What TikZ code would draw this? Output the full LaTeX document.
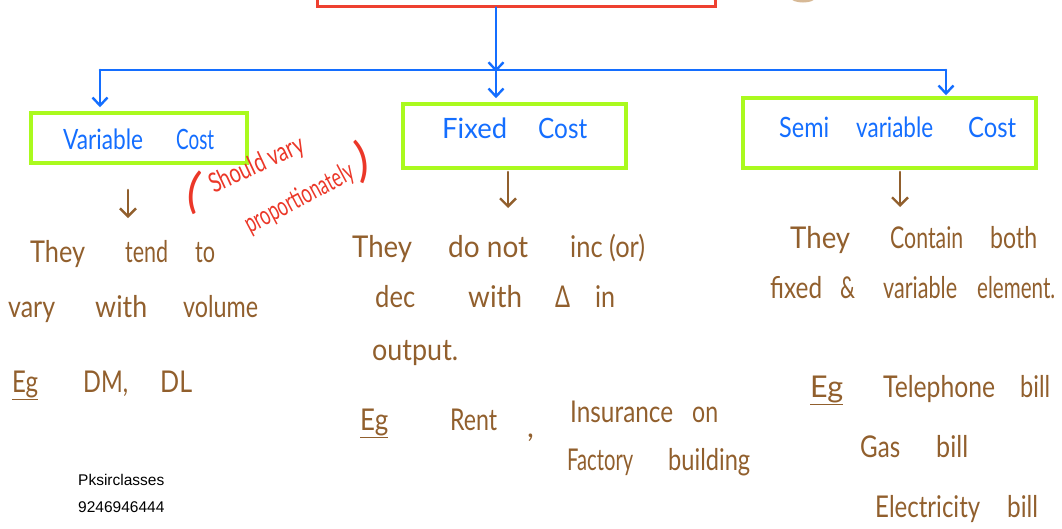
\documentclass[tikz,border=0pt]{standalone}
\usepackage{fontspec}
\setmainfont{Lato}
\setsansfont{Liberation Sans}
\usetikzlibrary{arrows.meta}
\definecolor{inkblue}{RGB}{20,110,255}
\definecolor{inkbrown}{RGB}{145,95,45}
\definecolor{inkred}{RGB}{235,55,40}
\definecolor{limegreen}{RGB}{170,250,30}
\definecolor{frame}{RGB}{238,64,48}
\definecolor{tanmark}{RGB}{215,185,150}
% a word stretched to a given width, height kept
\newcommand{\hw}[2]{\resizebox{#1pt}{\height}{#2}}
\newcommand{\gap}[1]{\hspace{#1pt}}
\tikzset{
  gbox/.style={draw=limegreen, line width=3.5pt, inner sep=0pt},
  boxtext/.style={text=inkblue, font=\fontsize{28}{30}\selectfont, anchor=base west, inner sep=0pt},
  note/.style={text=inkbrown, font=\fontsize{30}{32}\selectfont, anchor=base west, inner sep=0pt},
  remark/.style={text=inkred, font=\fontsize{27}{29}\selectfont, anchor=base west, inner sep=0pt},
  bline/.style={draw=inkblue, line width=2.6pt, line cap=round},
  barrow/.style={bline, -{Straight Barb[length=8pt,width=15pt,line width=2.4pt]}},
  narrow/.style={draw=inkbrown, line width=2.6pt, line cap=round,
    -{Straight Barb[length=8pt,width=16pt,line width=2.4pt]}},
  credit/.style={font=\sffamily\fontsize{15.5}{17}\selectfont, anchor=base west, inner sep=0pt}
}
\begin{document}
\begin{tikzpicture}[x=1pt,y=-1pt]
\useasboundingbox (0,0) rectangle (1062,528);
\clip (0,0) rectangle (1062,528);

% title frame (mostly above the page) and a stray mark
\node[draw=frame, line width=3pt, minimum width=398pt, minimum height=60pt, inner sep=0pt] (top) at (516,-24) {};
\fill[tanmark] (803,-2) ellipse (12pt and 4.5pt);

% blue tree
\coordinate (trunk) at (496,70);
\coordinate (hl) at (100,70);
\coordinate (hr) at (946,70);
\draw[barrow] (top.south -| trunk) -- ([yshift=-2pt]trunk);
\draw[bline] (hl) -- (hr);

% category boxes
\node[gbox, minimum width=216pt, minimum height=50pt] (vc) at (139,138) {};
\node[gbox, minimum width=223pt, minimum height=64pt] (fc) at (514.5,136) {};
\node[gbox, minimum width=293pt, minimum height=70pt] (sc) at (889.5,133) {};

\draw[barrow, shorten >=4pt] (hl) -- (vc.north -| hl);
\draw[barrow, shorten >=4pt] (trunk) -- (fc.north -| trunk);
\draw[barrow, shorten >=1pt] (hr) -- (sc.north -| hr);

\node[boxtext] (vct) at (63,149) {\hw{80}{Variable}\gap{33}\hw{38}{Cost}};
\node[boxtext] (fct) at (442,138) {\hw{65}{Fixed}\gap{31}\hw{49}{Cost}};
\node[boxtext] (sct) at (779,137) {\hw{50}{Semi}\gap{27}\hw{77}{variable}\gap{35}\hw{48}{Cost}};

% red side remark
\node[remark, font=\fontsize{48}{50}\selectfont, rotate=-8] (rpo) at (185,206) {(};
\node[remark, rotate=25] (rsv) at (214,194) {\hw{102}{Should vary}};
\node[remark, rotate=28] (rpr) at (250,234) {\hw{120}{proportionately}};
\node[remark, font=\fontsize{48}{50}\selectfont, rotate=10] (rpc) at (358,178) {)};

% brown pointers
\coordinate (a1) at (128,190); \coordinate (a1e) at (128,218);
\coordinate (a2) at (508,172); \coordinate (a2e) at (508,208);
\coordinate (a3) at (900,172); \coordinate (a3e) at (900,207);
\draw[narrow] (a1) -- (a1e);
\draw[narrow] (a2) -- (a2e);
\draw[narrow] (a3) -- (a3e);

% variable cost notes
\node[note] (v1) at (30,262) {\hw{55}{They}\gap{40}\hw{43}{tend}\gap{27}\hw{20}{to}};
\node[note] (v2) at (8,317) {\hw{47}{vary}\gap{40}\hw{52}{with}\gap{36}\hw{75}{volume}};
\node[note] (v3) at (12,392) {\hw{26}{\underline{Eg}}\gap{45}\hw{45}{DM,}\gap{32}\hw{32}{DL}};

% fixed cost notes
\node[note] (f1) at (352,257) {\hw{60}{They}\gap{36}\hw{80}{do not}\gap{42}\hw{75}{inc (or)}};
\node[note] (f2) at (375,307) {\hw{40}{dec}\gap{53}\hw{54}{with}\gap{33}\hw{15}{Δ}\gap{25}\hw{20}{in}};
\node[note] (f3) at (372,360) {\hw{86}{output.}};
\node[note] (f4) at (360,430) {\hw{28}{\underline{Eg}}\gap{62}\hw{47}{Rent}};
\node[note] (f4c) at (527,437) {,};
\node[note] (f5) at (570,422) {\hw{103}{Insurance}\gap{19}\hw{26}{on}};
\node[note] (f6) at (567,470) {\hw{66}{Factory}\gap{35}\hw{82}{building}};

% semi variable cost notes
\node[note] (s1) at (790,248) {\hw{60}{They}\gap{40}\hw{73}{Contain}\gap{27}\hw{47}{both}};
\node[note] (s2) at (770,298) {\hw{52}{fixed}\gap{18}\hw{15}{\&}\gap{28}\hw{74}{variable}\gap{20}\hw{78}{element.}};
\node[note] (s3) at (810,397) {\hw{33}{\underline{Eg}}\gap{40}\hw{112}{Telephone}\gap{25}\hw{30}{bill}};
\node[note] (s4) at (860,457) {\hw{40}{Gas}\gap{36}\hw{32}{bill}};
\node[note] (s5) at (875,517) {\hw{105}{Electricity}\gap{27}\hw{31}{bill}};

% credit
\node[credit] (cr1) at (78,485) {Pksirclasses};
\node[credit] (cr2) at (78,512) {9246946444};
\end{tikzpicture}
\end{document}
